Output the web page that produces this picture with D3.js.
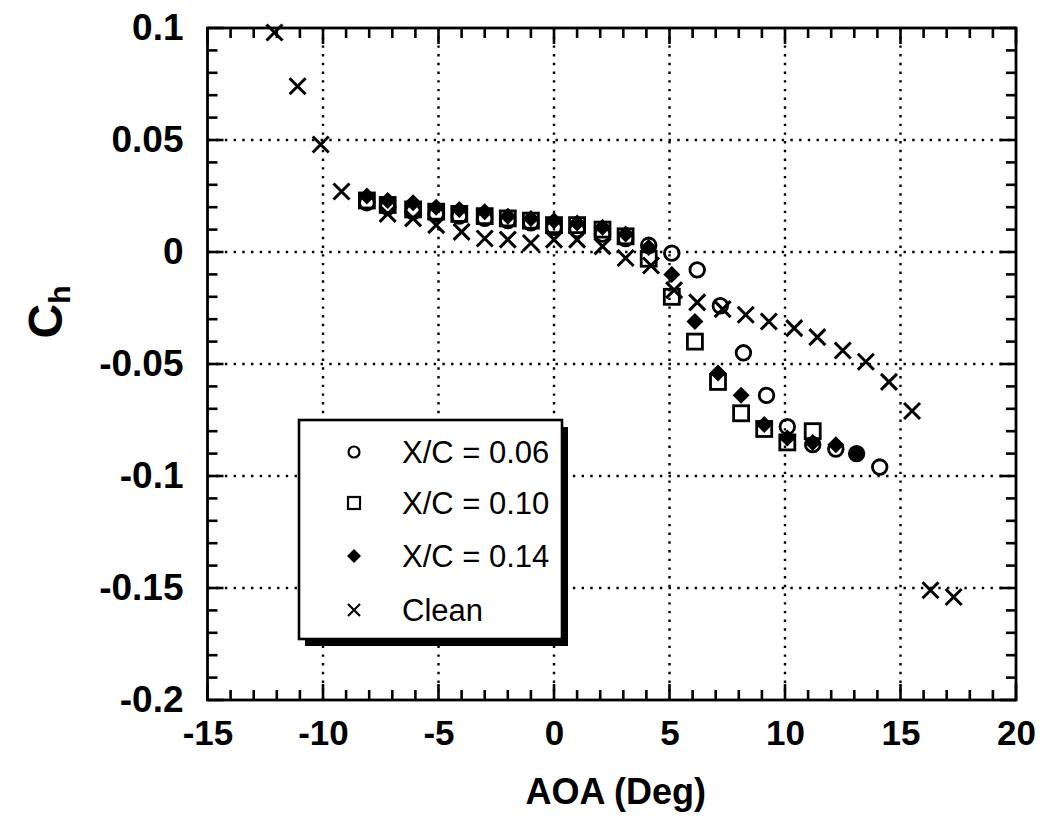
<!DOCTYPE html>
<html><head><meta charset="utf-8">
<script src="https://cdn.jsdelivr.net/npm/d3@7"></script>
<style>body{margin:0;background:#fff}svg{display:block}</style>
</head><body>
<script>
// ---- data ----
const aoaXC06 = [-8.1,-7.2,-6.1,-5.1,-4.1,-3.0,-2.0,-1.0,0.0,1.0,2.1,3.1,4.1,5.1,6.2,7.2,8.2,9.2,10.1,11.2,12.2,13.1,14.1];
const chXC06  = [0.022,0.020,0.018,0.017,0.016,0.015,0.014,0.013,0.011,0.010,0.008,0.006,0.003,-0.0005,-0.008,-0.024,-0.045,-0.064,-0.078,-0.086,-0.088,-0.090,-0.096];
const aoaXC10 = [-8.1,-7.2,-6.1,-5.1,-4.1,-3.0,-2.0,-1.0,0.0,1.0,2.1,3.1,4.1,5.1,6.1,7.1,8.1,9.1,10.1,11.2];
const chXC10  = [0.023,0.021,0.019,0.018,0.017,0.016,0.015,0.014,0.012,0.012,0.010,0.007,-0.003,-0.020,-0.040,-0.058,-0.072,-0.079,-0.085,-0.080];
const aoaXC14 = [-8.1,-7.2,-6.1,-5.1,-4.1,-3.0,-2.0,-1.0,0.0,1.0,2.1,3.1,4.1,5.1,6.1,7.1,8.1,9.1,10.1,11.2,12.2,13.1];
const chXC14  = [0.025,0.023,0.022,0.020,0.019,0.018,0.016,0.015,0.014,0.013,0.011,0.008,0.002,-0.010,-0.031,-0.054,-0.064,-0.077,-0.083,-0.085,-0.086,-0.090];
const aoaClean = [-12.1,-11.1,-10.1,-9.2,-7.2,-6.1,-5.1,-4.0,-3.0,-2.0,-1.0,0.0,1.0,2.1,3.1,4.2,5.2,6.2,7.3,8.3,9.3,10.4,11.4,12.5,13.5,14.5,15.5,16.3,17.3];
const chClean  = [0.098,0.074,0.048,0.027,0.017,0.015,0.012,0.009,0.006,0.0055,0.004,0.0055,0.0055,0.0025,-0.0027,-0.006,-0.017,-0.0225,-0.0255,-0.028,-0.031,-0.034,-0.038,-0.044,-0.049,-0.058,-0.071,-0.151,-0.154];
const seriesNames = ["X/C = 0.06","X/C = 0.10","X/C = 0.14","Clean"];
const xTicks = [-15,-10,-5,0,5,10,15,20];
const yTicks = [0.1,0.05,0,-0.05,-0.1,-0.15,-0.2];
const xTickLabels = ["-15","-10","-5","0","5","10","15","20"];
const yTickLabels = ["0.1","0.05","0","-0.05","-0.1","-0.15","-0.2"];

const W = 1043, H = 817;
const L = 207.5, R = 1016, T = 28, B = 700;
const svg = d3.select("body").append("svg").attr("width", W).attr("height", H);
const x = d3.scaleLinear().domain([-15, 20]).range([L, R]);
const y = d3.scaleLinear().domain([-0.2, 0.1]).range([B, T]);
const font = "'Liberation Sans', Arial, Helvetica, sans-serif";

// grid
const g = svg.append("g");
g.selectAll(".vg").data(xTicks.slice(1, -1)).join("line")
  .attr("x1", d => x(d)).attr("x2", d => x(d)).attr("y1", T).attr("y2", B)
  .attr("stroke", "#000").attr("stroke-width", 2.4).attr("stroke-dasharray", "2.4,6.3");
g.selectAll(".hg").data(yTicks.slice(1, -1)).join("line")
  .attr("y1", d => y(d)).attr("y2", d => y(d)).attr("x1", L).attr("x2", R)
  .attr("stroke", "#000").attr("stroke-width", 2.4).attr("stroke-dasharray", "2.4,6.3");

// frame
svg.append("rect").attr("x", L).attr("y", T).attr("width", R - L).attr("height", B - T)
  .attr("fill", "none").attr("stroke", "#000").attr("stroke-width", 2.8);

// inward ticks on all four sides
const xMinor = d3.range(-15, 20.01, 1);
const yMinor = d3.range(-20, 10.01, 1).map(v => v / 100);
const isMajX = v => xTicks.some(t => Math.abs(t - v) < 1e-9);
const isMajY = v => yTicks.some(t => Math.abs(t - v) < 1e-9);
const tk = svg.append("g");
function tick(x1, y1, x2, y2) {
  tk.append("line").attr("x1", x1).attr("y1", y1).attr("x2", x2).attr("y2", y2)
    .style("stroke", "#000").style("stroke-width", "2.6px");
}
xMinor.forEach(v => {
  const len = isMajX(v) ? 16 : 10;
  tick(x(v), B, x(v), B - len);
  tick(x(v), T, x(v), T + len);
});
yMinor.forEach(v => {
  const len = isMajY(v) ? 16 : 10;
  tick(L, y(v), L + len, y(v));
  tick(R, y(v), R - len, y(v));
});

// tick labels via axes (no lines)
const axB = svg.append("g").attr("transform", `translate(0,${B})`)
  .call(d3.axisBottom(x).tickValues(xTicks).tickSize(0).tickFormat((d,i)=>xTickLabels[i]).tickPadding(20));
axB.select(".domain").remove();
axB.selectAll("text").attr("font-family", font).attr("font-weight", "bold").attr("font-size", 35).attr("fill", "#000").attr("dy", "0.71em");
const axL = svg.append("g").attr("transform", `translate(${L},0)`)
  .call(d3.axisLeft(y).tickValues(yTicks).tickSize(0).tickFormat((d,i)=>yTickLabels[i]).tickPadding(24));
axL.select(".domain").remove();
axL.selectAll("text").attr("font-family", font).attr("font-weight", "bold").attr("font-size", 37).attr("fill", "#000");

// axis titles
svg.append("text").attr("x", (L + R) / 2 + 4).attr("y", 804).attr("text-anchor", "middle")
  .attr("font-family", font).attr("font-weight", "bold").attr("font-size", 36).text("AOA (Deg)");
const yt = svg.append("text").attr("transform", "translate(62,312) rotate(-90)")
  .attr("text-anchor", "middle").attr("font-family", font).attr("font-weight", "bold").attr("font-size", 48);
yt.append("tspan").text("C");
yt.append("tspan").attr("font-size", 30).attr("dy", 8).text("h");

// markers
const sw = 2.8;
function drawCircle(sel, cx, cy, r, w) { sel.append("circle").attr("cx", cx).attr("cy", cy).attr("r", r).attr("fill", "none").attr("stroke", "#000").attr("stroke-width", w); }
function drawSquare(sel, cx, cy, s, w) { sel.append("rect").attr("x", cx - s/2).attr("y", cy - s/2).attr("width", s).attr("height", s).attr("fill", "none").attr("stroke", "#000").attr("stroke-width", w); }
function drawDiamond(sel, cx, cy, s) { sel.append("path").attr("d", `M${cx},${cy-s}L${cx+s},${cy}L${cx},${cy+s}L${cx-s},${cy}Z`).attr("fill", "#000"); }
function drawX(sel, cx, cy, s, w) { sel.append("path").attr("d", `M${cx-s},${cy-s}L${cx+s},${cy+s}M${cx-s},${cy+s}L${cx+s},${cy-s}`).attr("stroke", "#000").attr("stroke-width", w).attr("fill", "none"); }

const mk = svg.append("g");
aoaXC06.forEach((a, i) => drawCircle(mk, x(a), y(chXC06[i]), 7.3, sw));
aoaXC10.forEach((a, i) => drawSquare(mk, x(a), y(chXC10[i]), 15, sw));
aoaXC14.forEach((a, i) => drawDiamond(mk, x(a), y(chXC14[i]), 8.5));
aoaClean.forEach((a, i) => drawX(mk, x(a), y(chClean[i]), 8, 3));

// legend
const lg = svg.append("g");
const lx = 299, ly = 420, lw = 263, lh = 219;
lg.append("rect").attr("x", lx + 6).attr("y", ly + 7).attr("width", lw).attr("height", lh).attr("fill", "#000");
lg.append("rect").attr("x", lx).attr("y", ly).attr("width", lw).attr("height", lh).attr("fill", "#fff").attr("stroke", "#000").attr("stroke-width", 2.6);
const rowY = [452, 503, 556, 610];
seriesNames.forEach((n, i) => {
  const cy = rowY[i], cx = 354;
  if (i === 0) drawCircle(lg, cx, cy, 5.5, 2.2);
  if (i === 1) drawSquare(lg, cx, cy, 12, 2.2);
  if (i === 2) drawDiamond(lg, cx, cy, 7);
  if (i === 3) drawX(lg, cx, cy, 6, 2.2);
  lg.append("text").attr("x", 402).attr("y", cy).attr("dy", "0.36em")
    .attr("font-family", font).attr("font-size", 31).text(n);
});
</script>
</body></html>
